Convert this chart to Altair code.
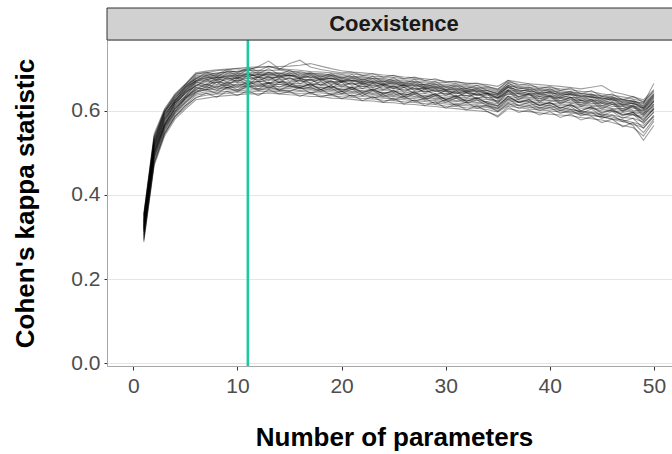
import altair as alt
import pandas as pd

# ---- data -----------------------------------------------------------------
n_params = [1, 2, 3, 4, 5, 6, 7, 8, 9, 10, 11, 12, 13, 14, 15, 16, 17, 18, 19, 20,
            21, 22, 23, 24, 25, 26, 27, 28, 29, 30, 31, 32, 33, 34, 35, 36, 37, 38, 39, 40,
            41, 42, 43, 44, 45, 46, 47, 48, 49, 50]
x_ticks = [0, 10, 20, 30, 40, 50]
y_ticks = [0.0, 0.2, 0.4, 0.6]
panel_labels = ["Coexistence"]
selected_params = [11]

run_01 = [.352,.540,.602,.638,.662,.688,.690,.695,.697,.700,
          .698,.703,.705,.700,.698,.696,.693,.692,.690,.687,
          .688,.684,.682,.680,.679,.676,.675,.672,.668,.667,
          .664,.662,.660,.657,.652,.668,.663,.660,.656,.655,
          .652,.650,.646,.645,.640,.637,.633,.628,.622,.645]
run_02 = [.295,.475,.545,.585,.608,.632,.637,.640,.641,.645,
          .643,.647,.645,.646,.643,.641,.640,.637,.636,.633,
          .632,.629,.628,.625,.624,.621,.620,.617,.615,.611,
          .610,.607,.606,.603,.597,.612,.607,.604,.602,.600,
          .597,.595,.592,.588,.586,.581,.578,.572,.565,.588]
run_03 = [.325,.512,.573,.617,.641,.660,.669,.668,.674,.672,
          .677,.674,.678,.673,.676,.670,.672,.666,.668,.662,
          .664,.658,.660,.654,.656,.650,.652,.646,.647,.640,
          .642,.636,.638,.632,.630,.640,.640,.632,.634,.628,
          .630,.623,.624,.617,.618,.610,.610,.601,.600,.616]
run_04 = [.338,.525,.590,.625,.652,.676,.678,.684,.682,.688,
          .686,.690,.687,.689,.684,.686,.680,.682,.677,.678,
          .672,.674,.669,.670,.665,.666,.661,.662,.656,.656,
          .651,.652,.647,.648,.640,.656,.648,.648,.642,.644,
          .638,.639,.633,.633,.627,.626,.619,.617,.608,.632]
run_05 = [.310,.495,.560,.600,.626,.648,.650,.657,.655,.660,
          .658,.662,.660,.663,.658,.659,.654,.655,.650,.651,
          .646,.647,.642,.643,.638,.640,.634,.635,.629,.629,
          .624,.625,.620,.621,.612,.628,.622,.621,.616,.617,
          .612,.612,.606,.606,.600,.599,.592,.590,.582,.603]
run_06 = [.330,.518,.582,.620,.648,.670,.672,.680,.676,.679,
          .682,.686,.680,.678,.683,.676,.674,.676,.670,.669,
          .671,.664,.665,.662,.658,.660,.654,.653,.652,.645,
          .646,.643,.640,.641,.632,.648,.644,.638,.640,.634,
          .633,.632,.626,.625,.622,.616,.615,.609,.603,.624]
run_07 = [.302,.485,.552,.592,.618,.640,.645,.647,.652,.650,
          .655,.652,.656,.652,.653,.648,.650,.645,.645,.641,
          .642,.637,.638,.633,.634,.629,.629,.625,.624,.619,
          .618,.615,.614,.611,.604,.620,.614,.613,.608,.609,
          .604,.603,.598,.597,.592,.590,.584,.582,.573,.596]
run_08 = [.345,.532,.596,.632,.656,.680,.684,.688,.692,.694,
          .697,.705,.718,.700,.695,.690,.688,.686,.684,.681,
          .680,.678,.676,.674,.671,.670,.668,.666,.662,.660,
          .657,.656,.653,.652,.645,.660,.656,.652,.650,.648,
          .645,.643,.640,.637,.634,.630,.626,.621,.615,.637]
run_09 = [.318,.502,.566,.608,.633,.655,.660,.661,.665,.668,
          .665,.670,.667,.668,.666,.664,.662,.661,.657,.657,
          .654,.653,.650,.648,.647,.644,.642,.641,.637,.635,
          .633,.630,.628,.627,.620,.635,.630,.627,.624,.623,
          .620,.618,.614,.611,.609,.604,.600,.596,.590,.610]
run_10 = [.334,.520,.585,.624,.648,.672,.674,.679,.679,.683,
          .682,.685,.684,.682,.684,.679,.679,.675,.676,.671,
          .671,.668,.667,.663,.663,.659,.659,.655,.654,.649,
          .649,.645,.645,.641,.637,.650,.647,.641,.641,.637,
          .637,.632,.631,.626,.625,.619,.617,.611,.607,.627]
run_11 = [.288,.470,.540,.580,.604,.626,.630,.634,.636,.638,
          .640,.640,.642,.640,.638,.637,.634,.634,.630,.629,
          .627,.624,.623,.620,.619,.616,.615,.612,.610,.607,
          .605,.602,.600,.598,.585,.605,.600,.598,.595,.592,
          .590,.588,.584,.581,.578,.572,.565,.560,.540,.575]
run_12 = [.327,.515,.578,.619,.643,.666,.670,.673,.676,.677,
          .678,.679,.680,.678,.677,.675,.673,.671,.669,.667,
          .665,.663,.661,.659,.657,.655,.653,.651,.648,.645,
          .643,.641,.639,.637,.631,.645,.641,.637,.635,.633,
          .631,.628,.625,.622,.619,.615,.611,.606,.601,.621]
run_13 = [.322,.506,.570,.610,.636,.660,.662,.668,.666,.672,
          .670,.668,.674,.670,.668,.672,.665,.662,.664,.660,
          .656,.658,.655,.650,.653,.648,.645,.647,.641,.640,
          .636,.636,.630,.632,.622,.640,.634,.630,.630,.624,
          .625,.619,.620,.613,.613,.606,.605,.598,.594,.612]
run_14 = [.348,.535,.598,.634,.658,.683,.686,.690,.692,.693,
          .695,.696,.695,.697,.692,.693,.688,.689,.685,.685,
          .681,.681,.677,.677,.673,.673,.669,.669,.664,.663,
          .659,.659,.655,.655,.648,.664,.658,.656,.652,.651,
          .648,.645,.642,.639,.636,.632,.628,.623,.618,.640]
run_15 = [.314,.498,.563,.604,.630,.651,.655,.658,.661,.662,
          .664,.664,.665,.663,.663,.660,.659,.656,.655,.652,
          .651,.648,.647,.644,.643,.640,.638,.637,.633,.631,
          .629,.626,.625,.622,.616,.630,.626,.622,.620,.618,
          .616,.613,.610,.607,.604,.600,.596,.591,.586,.606]
run_16 = [.335,.522,.588,.626,.650,.673,.677,.680,.682,.684,
          .685,.686,.686,.685,.684,.682,.680,.678,.676,.674,
          .672,.670,.668,.666,.664,.662,.660,.658,.655,.652,
          .650,.648,.646,.644,.638,.655,.650,.646,.644,.642,
          .640,.638,.635,.632,.630,.628,.625,.622,.618,.665]
run_17 = [.306,.490,.557,.597,.622,.645,.649,.652,.654,.656,
          .657,.658,.658,.657,.656,.654,.652,.650,.648,.646,
          .644,.642,.640,.638,.636,.634,.632,.630,.627,.624,
          .622,.620,.618,.616,.606,.624,.620,.616,.614,.612,
          .608,.604,.598,.594,.590,.585,.578,.565,.530,.565]
run_18 = [.355,.545,.605,.640,.664,.690,.694,.697,.699,.701,
          .703,.704,.704,.705,.706,.708,.712,.706,.700,.695,
          .692,.690,.688,.685,.683,.680,.678,.676,.673,.670,
          .668,.666,.664,.662,.658,.672,.668,.664,.662,.660,
          .658,.655,.652,.656,.660,.645,.640,.633,.626,.650]
run_19 = [.298,.480,.548,.588,.613,.637,.641,.644,.646,.648,
          .649,.650,.650,.649,.648,.646,.644,.642,.640,.638,
          .636,.634,.632,.630,.628,.626,.624,.622,.619,.616,
          .614,.612,.610,.608,.600,.616,.612,.608,.606,.604,
          .601,.598,.594,.590,.586,.580,.574,.568,.560,.585]
run_20 = [.342,.528,.594,.630,.654,.678,.682,.685,.688,.689,
          .690,.692,.691,.690,.689,.688,.685,.684,.681,.679,
          .677,.675,.672,.671,.668,.667,.664,.662,.659,.657,
          .654,.652,.650,.648,.642,.659,.654,.650,.648,.646,
          .643,.640,.637,.634,.631,.626,.622,.617,.612,.634]
run_21 = [.320,.505,.580,.612,.645,.658,.675,.662,.680,.668,
          .684,.670,.682,.666,.680,.664,.676,.660,.672,.656,
          .668,.652,.666,.650,.660,.644,.658,.642,.652,.636,
          .648,.630,.644,.628,.624,.648,.632,.640,.624,.636,
          .620,.632,.614,.626,.608,.620,.600,.612,.592,.622]
run_22 = [.316,.500,.565,.606,.628,.655,.650,.668,.655,.664,
          .660,.670,.652,.668,.660,.655,.664,.650,.660,.645,
          .656,.642,.650,.640,.648,.634,.645,.630,.640,.626,
          .634,.622,.630,.618,.612,.634,.620,.626,.612,.620,
          .606,.616,.600,.610,.596,.604,.590,.596,.578,.604]
run_23 = [.330,.516,.584,.622,.646,.668,.680,.672,.684,.676,
          .688,.678,.690,.680,.686,.676,.684,.672,.678,.668,
          .676,.664,.670,.660,.668,.656,.664,.652,.658,.648,
          .654,.644,.650,.640,.632,.656,.640,.646,.634,.642,
          .630,.638,.624,.632,.618,.626,.612,.618,.604,.630]
run_24 = [.304,.488,.555,.595,.620,.642,.652,.640,.656,.645,
          .660,.648,.655,.650,.646,.656,.642,.650,.638,.646,
          .634,.642,.630,.638,.626,.634,.622,.630,.616,.626,
          .612,.620,.606,.614,.598,.618,.606,.612,.600,.608,
          .594,.602,.588,.596,.582,.590,.574,.582,.558,.590]
run_25 = [.340,.530,.598,.628,.660,.676,.690,.680,.694,.684,
          .698,.688,.700,.686,.696,.682,.692,.680,.688,.676,
          .686,.672,.682,.668,.678,.664,.674,.660,.670,.656,
          .664,.652,.660,.648,.640,.666,.652,.656,.644,.652,
          .640,.646,.634,.640,.628,.634,.620,.626,.610,.640]
run_26 = [.322,.508,.568,.614,.634,.664,.656,.674,.660,.676,
          .662,.680,.664,.676,.660,.674,.658,.670,.654,.668,
          .650,.664,.648,.660,.644,.656,.640,.652,.636,.648,
          .632,.644,.628,.640,.618,.646,.626,.640,.620,.634,
          .616,.628,.610,.622,.604,.616,.598,.610,.588,.616]
run_27 = [.312,.492,.562,.598,.630,.644,.658,.648,.662,.650,
          .664,.652,.666,.648,.660,.652,.656,.646,.654,.640,
          .652,.636,.648,.634,.642,.630,.640,.626,.636,.620,
          .630,.618,.626,.612,.606,.628,.612,.620,.606,.614,
          .600,.610,.594,.604,.588,.598,.582,.592,.570,.598]
run_28 = [.350,.538,.600,.636,.662,.686,.692,.686,.698,.690,
          .702,.694,.706,.698,.712,.720,.704,.698,.694,.690,
          .692,.684,.688,.680,.684,.676,.680,.672,.676,.668,
          .670,.664,.666,.658,.650,.672,.660,.664,.652,.658,
          .648,.654,.640,.648,.634,.640,.626,.634,.620,.648]
run_29 = [.326,.514,.576,.618,.640,.668,.662,.678,.668,.680,
          .670,.682,.672,.684,.670,.678,.666,.676,.662,.672,
          .660,.668,.656,.664,.652,.662,.648,.656,.646,.650,
          .640,.648,.636,.642,.628,.650,.634,.642,.628,.638,
          .624,.632,.618,.628,.612,.622,.604,.614,.596,.624]
run_30 = [.292,.476,.546,.586,.612,.630,.642,.632,.646,.636,
          .648,.636,.650,.640,.646,.634,.644,.632,.640,.628,
          .638,.624,.634,.620,.630,.616,.626,.612,.622,.606,
          .616,.602,.612,.598,.588,.610,.596,.602,.590,.598,
          .584,.592,.578,.586,.572,.580,.562,.572,.548,.580]
run_31 = [.336,.524,.592,.622,.656,.670,.684,.674,.688,.680,
          .690,.680,.692,.682,.690,.678,.688,.674,.684,.670,
          .680,.668,.676,.664,.672,.660,.668,.656,.664,.650,
          .660,.646,.654,.642,.636,.660,.644,.652,.638,.646,
          .634,.642,.628,.636,.622,.630,.614,.622,.606,.636]
run_32 = [.316,.500,.568,.604,.632,.650,.664,.654,.668,.656,
          .670,.658,.668,.656,.666,.654,.664,.650,.660,.648,
          .656,.644,.652,.640,.648,.636,.644,.632,.640,.626,
          .636,.622,.632,.618,.610,.634,.620,.626,.612,.620,
          .606,.614,.600,.608,.594,.602,.588,.596,.576,.606]

runs = [run_01, run_02, run_03, run_04, run_05, run_06, run_07, run_08,
        run_09, run_10, run_11, run_12, run_13, run_14, run_15, run_16,
        run_17, run_18, run_19, run_20, run_21, run_22, run_23, run_24,
        run_25, run_26, run_27, run_28, run_29, run_30, run_31, run_32]

rows = []
for i, vals in enumerate(runs):
    for n, k in zip(n_params, vals):
        rows.append({"run": f"r{i+1}", "n": n, "kappa": k})
df = pd.DataFrame(rows)
df_rule = pd.DataFrame({"n": selected_params})
df_panel = pd.DataFrame({"panel": panel_labels})

# ---- layout ---------------------------------------------------------------
W, H = 565, 326
FONT = "Liberation Sans"
TEAL = "#1fc9a0"

x_scale = alt.Scale(domain=[-2.53, 51.74], nice=False, zero=False)
y_scale = alt.Scale(domain=[-0.006, 0.768], nice=False, zero=False)

x_axis = alt.Axis(
    values=x_ticks, grid=False, title="Number of parameters",
    titleFont=FONT, titleFontSize=26, titleFontWeight="bold", titleColor="#000000",
    titleX=287, titleY=79, titleBaseline="alphabetic", titleAlign="center",
    labelFont=FONT, labelFontSize=21, labelColor="#4d4d4d", labelPadding=5,
    tickColor="#333333", tickSize=4, domainColor="#a6a6a6", domainWidth=1,
)
y_axis = alt.Axis(
    values=y_ticks, format=".1f", grid=True, gridColor="#e6e6e6", gridWidth=1,
    title="Cohen's kappa statistic",
    titleFont=FONT, titleFontSize=26, titleFontWeight="bold", titleColor="#000000",
    titleX=-74, titleY=H / 2, titleBaseline="alphabetic", titleAlign="center",
    labelFont=FONT, labelFontSize=21, labelColor="#4d4d4d", labelPadding=4,
    tickColor="#333333", tickSize=3, domainColor="#a6a6a6", domainWidth=1,
)

lines = alt.Chart(df).mark_line(color="#000000", opacity=0.38, strokeWidth=1.1, clip=True).encode(
    x=alt.X("n:Q", scale=x_scale, axis=x_axis),
    y=alt.Y("kappa:Q", scale=y_scale, axis=y_axis),
    detail="run:N",
)

rule = alt.Chart(df_rule).mark_rule(color=TEAL, strokeWidth=2.6).encode(
    x=alt.X("n:Q", scale=x_scale),
)

strip_box = alt.Chart(df_panel).mark_rect(
    fill="#d1d1d1", stroke="#333333", strokeWidth=1, clip=False
).encode(
    x=alt.value(0), x2=alt.value(W + 30), y=alt.value(-32), y2=alt.value(0),
)
strip_text = alt.Chart(df_panel).mark_text(
    font=FONT, fontSize=22, fontWeight="bold", color="#1a1a1a",
    align="center", baseline="middle", clip=False
).encode(
    x=alt.value(287), y=alt.value(-16), text="panel:N",
)

chart = alt.layer(lines, rule, strip_box, strip_text).properties(
    width=W, height=H,
    autosize=alt.AutoSizeParams(type="none"),
    padding={"left": 107, "top": 40, "right": 0, "bottom": 88},
).configure_view(stroke=None).configure(background="#ffffff")

chart.save("out.html", embed_options={"renderer": "svg", "actions": False})
